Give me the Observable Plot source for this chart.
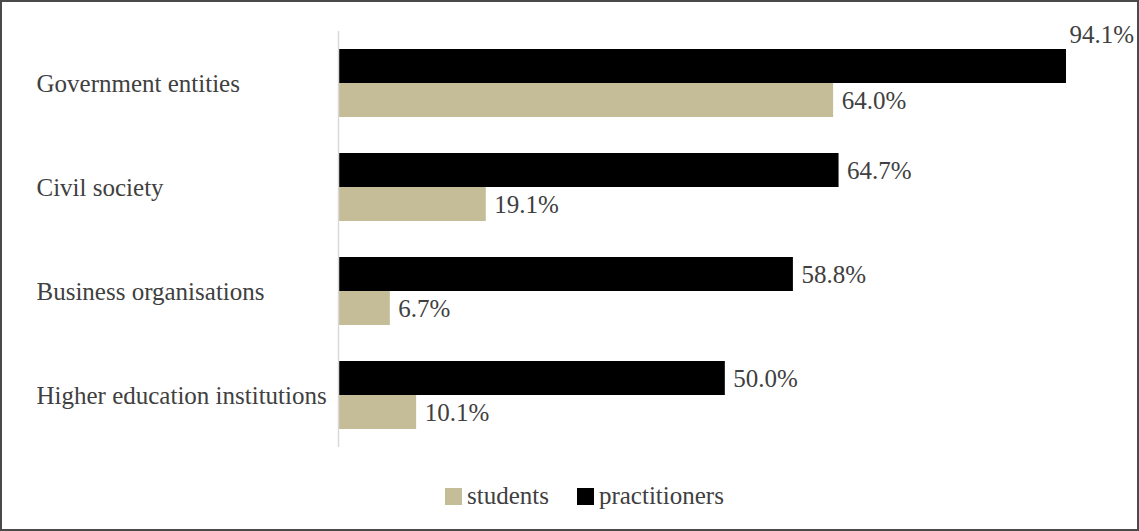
<!DOCTYPE html>
<html>
<head>
<meta charset="utf-8">
<script src="https://cdn.jsdelivr.net/npm/d3@7"></script>
<script src="https://cdn.jsdelivr.net/npm/@observablehq/plot@0.6"></script>
<style>
  html, body { margin: 0; padding: 0; background: #fff; }
  #frame { position: relative; width: 1139px; height: 531px; box-sizing: border-box; border: 2px solid #4a4a4a; overflow: hidden; font-family: 'Liberation Serif', serif; }
  #chart svg { display: block; }
  #legend { position: absolute; left: 443px; top: 480px; display: flex; align-items: center; font-size: 25px; color: #404040; font-family: 'Liberation Serif', serif; }
  .sw { width: 17px; height: 17px; display: inline-block; margin-right: 5px; }
  .item { display: flex; align-items: center; }
  #chart svg text { font-family: 'Liberation Serif', serif; }
</style>
</head>
<body>
<div id="frame">
  <div id="chart"></div>
  <div id="legend"></div>
</div>
<script>
const categories = ["Government entities", "Civil society", "Business organisations", "Higher education institutions"];
const seriesNames = ["practitioners", "students"];
const practitioners = [94.1, 64.7, 58.8, 50.0];
const students = [64.0, 19.1, 6.7, 10.1];
const colors = { practitioners: "#000000", students: "#c4bd98" };
const legendOrder = ["students", "practitioners"];

const rows = [];
categories.forEach((c, i) => {
  rows.push({ category: c, series: "practitioners", value: practitioners[i] });
  rows.push({ category: c, series: "students", value: students[i] });
});
const topRow = rows.filter(d => d.value === d3.max(rows, r => r.value));
const otherRows = rows.filter(d => !topRow.includes(d));

const plot = Plot.plot({
  width: 1135,
  height: 460,
  marginLeft: 336,
  marginRight: 71,
  marginTop: 27,
  marginBottom: 14,
  style: { fontSize: "25px", color: "#404040", background: "#fff" },
  x: { domain: [0, d3.max(practitioners)], axis: null },
  y: { domain: seriesNames, axis: null, paddingInner: 0, paddingOuter: 0.5 },
  fy: { domain: categories, axis: null, padding: 0 },
  marks: [
    Plot.barX(rows, { fy: "category", y: "series", x: "value", fill: d => colors[d.series] }),
    Plot.ruleX([0], { stroke: "#d9d9d9", strokeWidth: 1.5 }),
    Plot.text(otherRows, { fy: "category", y: "series", x: "value", text: d => d.value.toFixed(1) + "%", textAnchor: "start", dx: 8, fill: "#404040", fontSize: 25 }),
    Plot.text(topRow, { fy: "category", y: "series", x: "value", text: d => d.value.toFixed(1) + "%", textAnchor: "start", dx: 3, dy: -32, fill: "#404040", fontSize: 25 }),
    Plot.text(categories, { fy: d => d, text: d => d, frameAnchor: "left", textAnchor: "start", dx: -302, fill: "#404040", fontSize: 25 })
  ]
});
document.getElementById("chart").appendChild(plot);

const legend = document.getElementById("legend");
legendOrder.forEach((s, i) => {
  const item = document.createElement("span");
  item.className = "item";
  if (i > 0) item.style.marginLeft = "28px";
  const sw = document.createElement("span");
  sw.className = "sw";
  sw.style.background = colors[s];
  const lab = document.createElement("span");
  lab.textContent = s;
  item.appendChild(sw);
  item.appendChild(lab);
  legend.appendChild(item);
});
</script>
</body>
</html>
